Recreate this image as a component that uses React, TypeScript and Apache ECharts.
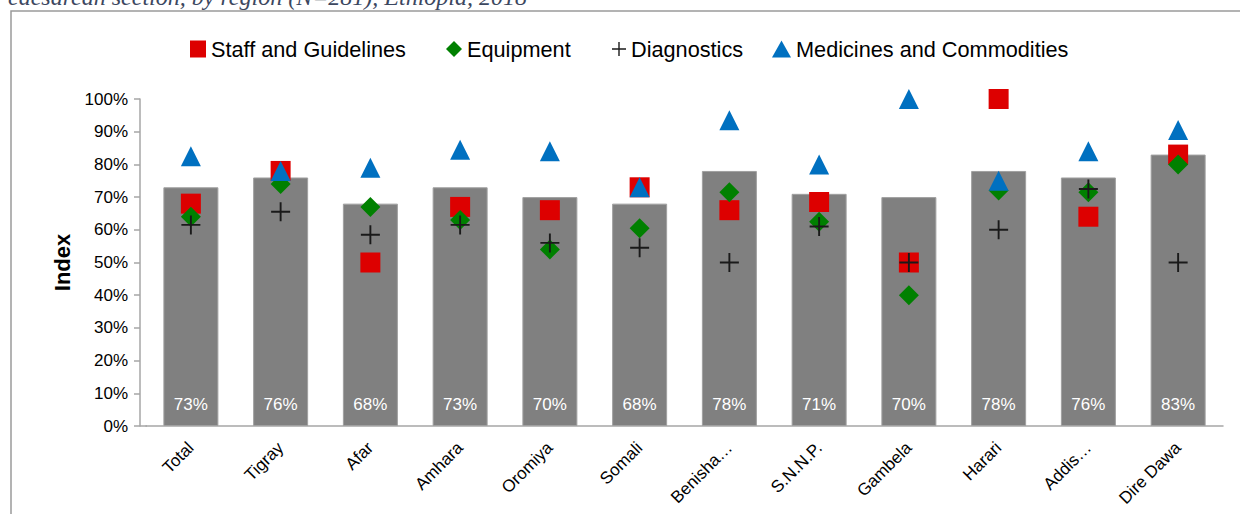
import React, { useEffect, useRef } from "react";
import * as echarts from "echarts";

const categories = ["Total", "Tigray", "Afar", "Amhara", "Oromiya", "Somali", "Benisha…", "S.N.N.P.", "Gambela", "Harari", "Addis…", "Dire Dawa"];
const overall = [73, 76, 68, 73, 70, 68, 78, 71, 70, 78, 76, 83];
const staff = [68, 78, 50, 67, 66, 73, 66, 68.5, 50, 100, 64, 83];
const equipment = [64, 74, 67, 63, 54, 60.5, 71.5, 62.5, 40, 72, 71.5, 80];
const diagnostics = [61.5, 65.5, 58.5, 61.5, 56, 54.5, 50, 61, 50, 60, 72.5, 50];
const medicines = [82.5, 78, 79, 84.5, 84, 73, 93.5, 80, 100, 75, 84, 90.5];
const yTicks = { min: 0, max: 100, interval: 10 };
const caption = "caesarean section, by region (N=281), Ethiopia, 2018";

const FONT = "'Liberation Sans', Arial, sans-serif";
const PLUS = "path://M9,0H11V20H9Z M0,9H20V11H0Z";

export default function App() {
  const ref = useRef<HTMLDivElement>(null);
  useEffect(() => {
    if (!ref.current) return;
    const chart = echarts.init(ref.current, null, { renderer: "svg" });
    const legendText = { fontSize: 21.7, color: "#000", fontFamily: FONT };
    chart.setOption({
      animation: false,
      backgroundColor: "#fff",
      graphic: [
        {
          type: "rect",
          shape: { x: 11, y: 11, width: 1260, height: 540 },
          style: { fill: "none", stroke: "#9a9a9a", lineWidth: 1.5 },
          silent: true,
        },
        {
          type: "line",
          shape: { x1: 140, y1: 426, x2: 147, y2: 426 },
          style: { stroke: "#a6a6a6", lineWidth: 1.5 },
          silent: true,
        },
        {
          type: "text",
          x: 8,
          y: 9,
          style: {
            text: caption,
            font: "italic 24px 'Liberation Serif', 'DejaVu Serif', serif",
            fill: "#3c4760",
            verticalAlign: "bottom",
            align: "left",
          },
          silent: true,
        },
      ],
      legend: [
        { data: [{ name: "Staff and Guidelines", icon: "rect" }], left: 185, top: 33, itemWidth: 16, itemHeight: 17, textStyle: legendText, selectedMode: false },
        { data: [{ name: "Equipment", icon: "diamond" }], left: 441, top: 33, itemWidth: 16, itemHeight: 16, textStyle: legendText, selectedMode: false },
        { data: [{ name: "Diagnostics", icon: PLUS }], left: 607, top: 33, itemWidth: 14, itemHeight: 14, textStyle: legendText, selectedMode: false },
        { data: [{ name: "Medicines and Commodities", icon: "triangle" }], left: 767, top: 33, itemWidth: 19, itemHeight: 17, textStyle: legendText, selectedMode: false },
      ],
      grid: { left: 146, right: 17, top: 99, bottom: 88, containLabel: false },
      xAxis: {
        type: "category",
        data: categories,
        axisLine: { show: true, lineStyle: { color: "#a6a6a6", width: 1.5 } },
        axisTick: { show: false },
        axisLabel: { rotate: 45, fontSize: 17, color: "#000", fontFamily: FONT, margin: 19, interval: 0 },
      },
      yAxis: {
        type: "value",
        min: yTicks.min,
        max: yTicks.max,
        interval: yTicks.interval,
        offset: 6,
        name: "Index",
        nameLocation: "middle",
        nameGap: 63,
        nameTextStyle: { fontSize: 22, fontWeight: "bold", color: "#000", fontFamily: FONT },
        axisLine: { show: true, lineStyle: { color: "#a6a6a6", width: 1.5 } },
        axisTick: { show: true, inside: false, length: 6, lineStyle: { color: "#a6a6a6", width: 1.5 } },
        splitLine: { show: false },
        axisLabel: { formatter: "{value}%", fontSize: 17, color: "#000", fontFamily: FONT, margin: 12 },
      },
      series: [
        {
          name: "Index",
          type: "bar",
          data: overall,
          barWidth: 55,
          itemStyle: { color: "#808080", borderColor: "#a0a0a0", borderWidth: 1 },
          label: { show: true, position: "insideBottom", distance: 13, formatter: "{c}%", color: "#fff", fontSize: 17, fontFamily: FONT },
          z: 1,
        },
        {
          name: "Staff and Guidelines",
          type: "scatter",
          data: staff,
          symbol: "rect",
          symbolSize: 20,
          itemStyle: { color: "#dd0000", opacity: 1 },
          z: 3,
        },
        {
          name: "Equipment",
          type: "scatter",
          data: equipment,
          symbol: "diamond",
          symbolSize: 20,
          itemStyle: { color: "#008000", opacity: 1 },
          z: 4,
        },
        {
          name: "Diagnostics",
          type: "scatter",
          data: diagnostics,
          symbol: PLUS,
          symbolSize: 19,
          itemStyle: { color: "#1a1a1a", opacity: 1 },
          z: 5,
        },
        {
          name: "Medicines and Commodities",
          type: "scatter",
          data: medicines,
          symbol: "triangle",
          symbolSize: 20,
          itemStyle: { color: "#0070c0", opacity: 1 },
          z: 6,
        },
      ],
    });
    return () => chart.dispose();
  }, []);
  return <div ref={ref} style={{ position: "fixed", left: 0, top: 0, width: 1240, height: 514 }} />;
}
